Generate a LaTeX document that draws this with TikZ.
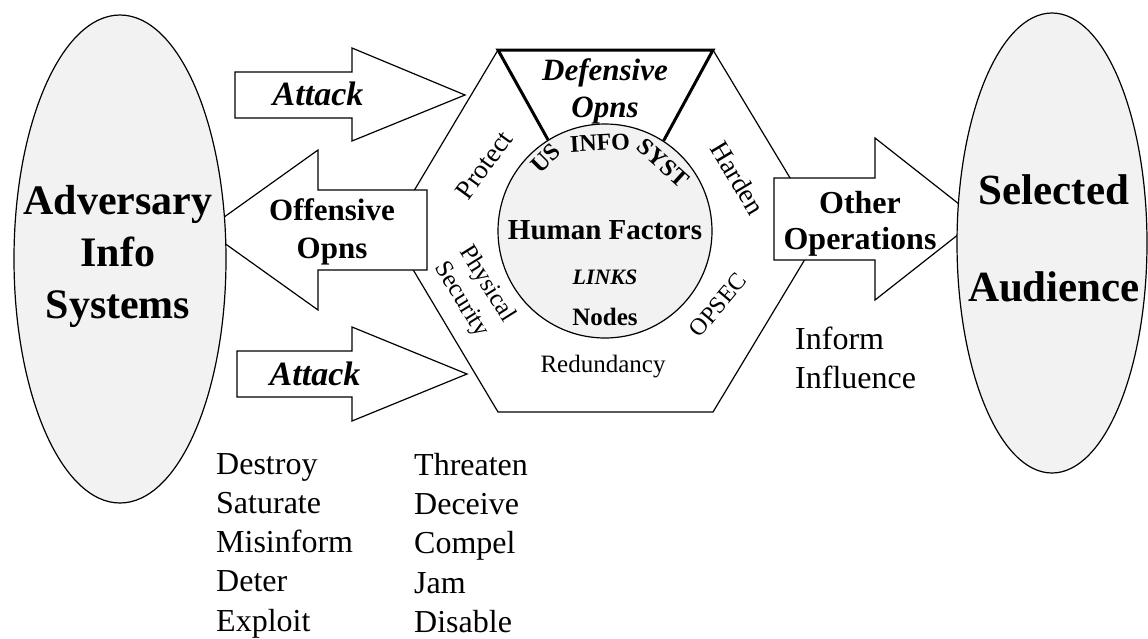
\documentclass[tikz,border=0pt]{standalone}
\usepackage{fontspec}
\setmainfont{Liberation Serif}
\usetikzlibrary{
  shapes.geometric, % for the ellipse shape of the two systems
}
\tikzset{
  system/.style={ % style for the two big shaded ellipses
    ellipse,draw,line width=1.2pt, % drawn as a medium ellipse
    fill=gray!10, % light shading
    inner sep=0pt, % no padding round the shape
  },
  syslab/.style={ % style for the text in the two ellipses
    align=center, % several lines of text
    inner sep=0pt,
    font=\fontsize{42}{52}\selectfont\bfseries,
  },
  core/.style={ % style for the circle of the own info system
    circle,draw,line width=1.2pt,
    fill=gray!10,
    inner sep=0pt,
  },
  hexa/.style={ % style for the hexagon outline
    line width=1.2pt,
    line join=miter,
  },
  defline/.style={ % style for the thick lines of the defensive part
    line width=3pt,
    line join=miter,
  },
  blockarrow/.style={ % style for the big block arrows
    draw,fill=white,line width=1.2pt,
    line join=miter,
  },
  oplab/.style={ % style for the labels in the block arrows
    font=\fontsize{32}{37}\selectfont\bfseries,
    align=center,
  },
  attacklab/.style={ % style for the attack labels
    font=\fontsize{34}{40}\selectfont\bfseries\itshape,
  },
  edgelab/.style={ % style for the labels along the hexagon
    font=\fontsize{27}{30}\selectfont,
    align=center,
    inner sep=0pt,
  },
  corelab/.style={ % style for the labels on the circle
    font=\fontsize{24}{28}\selectfont\bfseries,
    inner sep=0pt,
  },
  listlab/.style={ % style for the lists of words
    font=\fontsize{32}{39.25}\selectfont,
    align=left,
    anchor=north west,
    inner sep=0pt,
  },
}

\begin{document}
\begin{tikzpicture}[x=1pt,y=-1pt]
	\useasboundingbox (0,0) rectangle (1148,638);

	% hexagon
	\coordinate (h1) at (498,50);
	\coordinate (h2) at (713,50);
	\coordinate (h3) at (822,231);
	\coordinate (h4) at (713,412);
	\coordinate (h5) at (498,412);
	\coordinate (h6) at (390,231);
	\draw[hexa] (h1) -- (h2) -- (h3) -- (h4) -- (h5) -- (h6) -- cycle;

	\node[core,minimum size=214pt] (core) at (605,231) {};
	\draw[defline] (core.122) -- (h1) -- (h2) -- (core.57);

	\node[font=\fontsize{31}{37}\selectfont\bfseries\itshape,align=center] (defops) at (605,91) {Defensive\\Opns};

	\node[corelab,rotate=45] (us) at (546,158) {US};
	\node[corelab,rotate=3] (info) at (600,143) {INFO};
	\node[corelab,rotate=-42] (syst) at (663,163) {SYST};
	\node[font=\fontsize{29}{34}\selectfont\bfseries] (human) at (605,230) {Human Factors};
	\node[font=\fontsize{22}{26}\selectfont\bfseries\itshape] (links) at (605,277) {LINKS};
	\node[font=\fontsize{25}{30}\selectfont\bfseries] (nodes) at (605,317) {Nodes};

	\node[edgelab,rotate=54] (protect) at (484,165) {Protect};
	\node[edgelab,rotate=-59] (harden) at (738,178) {Harden};
	\node[edgelab,rotate=-58,font=\fontsize{25}{30}\selectfont] (physec) at (474,292) {Physical\\Security};
	\node[edgelab,rotate=50,font=\fontsize{24}{28}\selectfont] (opsec) at (718,305) {OPSEC};
	\node[edgelab,font=\fontsize{25}{30}\selectfont] (redund) at (603,367) {Redundancy};

	% block arrows
	\draw[blockarrow] (235,72) -- (352,72) -- (352,48) -- (465,95) -- (352,141) -- (352,118) -- (235,118) -- cycle;
	\node[attacklab] (attack1) at (318,94) {Attack};

	\draw[blockarrow] (237,351) -- (352,351) -- (352,327) -- (467,374) -- (352,421) -- (352,397) -- (237,397) -- cycle;
	\node[attacklab] (attack2) at (315,374) {Attack};

	\draw[blockarrow] (427,190) -- (318,190) -- (318,150) -- (206,230) -- (318,310) -- (318,270) -- (427,270) -- cycle;
	\node[oplab,font=\fontsize{31}{38}\selectfont\bfseries] (offops) at (332,232) {Offensive\\Opns};

	\draw[blockarrow] (774,178) -- (875,178) -- (875,138) -- (978,219) -- (875,300) -- (875,260) -- (774,260) -- cycle;
	\node[oplab,font=\fontsize{32}{36}\selectfont\bfseries] (otherops) at (860,224) {Other\\Operations};

	% the two systems
	\node[system,minimum width=212pt,minimum height=488pt] (adv) at (120,259) {};
	\node[syslab] (advlab) at (118,256) {Adversary\\Info\\Systems};
	\node[system,minimum width=190pt,minimum height=460pt] (aud) at (1052,243) {};
	\node[syslab,font=\fontsize{43}{97}\selectfont\bfseries] (audlab) at (1054,238) {Selected\\Audience};

	% lists
	\node[listlab,anchor=west] (infl) at (795,358) {Inform\\Influence};
	\node[listlab] (list1) at (216,453) {Destroy\\Saturate\\Misinform\\Deter\\Exploit};
	\node[listlab] (list2) at (414,453) {Threaten\\Deceive\\Compel\\Jam\\Disable};

\end{tikzpicture}
\end{document}
